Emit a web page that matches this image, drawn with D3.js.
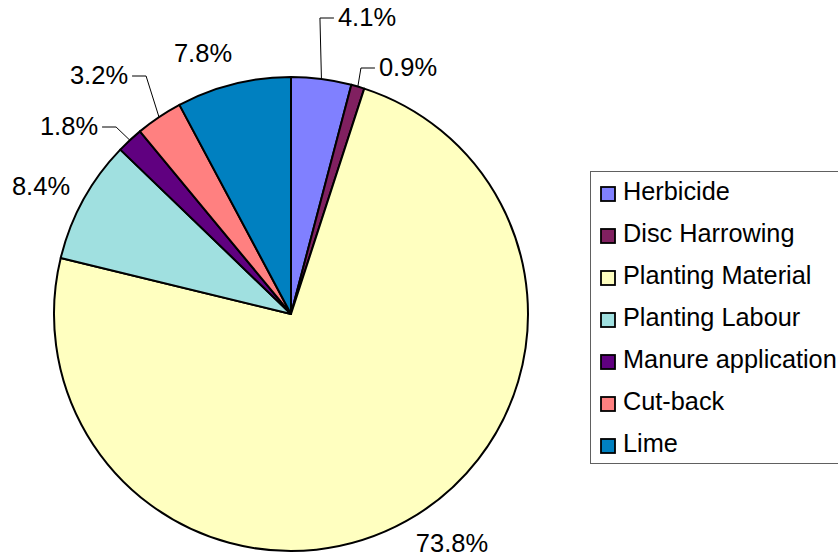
<!DOCTYPE html>
<html>
<head>
<meta charset="utf-8">
<script src="https://cdnjs.cloudflare.com/ajax/libs/d3/7.8.5/d3.min.js"></script>
<style>
  html, body { margin: 0; padding: 0; background: #fff; overflow: hidden; }
  svg { display: block; font-family: "Liberation Sans", Arial, sans-serif; }
</style>
</head>
<body>
<svg id="chart" width="838" height="555"></svg>
<script>
// Cost components (percent of total establishment cost)
const categories = ["Herbicide", "Disc Harrowing", "Planting Material", "Planting Labour",
                    "Manure application", "Cut-back", "Lime"];
const shares = [4.1, 0.9, 73.8, 8.4, 1.8, 3.2, 7.8];
const labelTexts = ["4.1%", "0.9%", "73.8%", "8.4%", "1.8%", "3.2%", "7.8%"];
const colors = ["#8080FF", "#802060", "#FFFFC0", "#A0E0E0", "#600080", "#FF8080", "#0080C0"];

// Label placement: offset of label centre from pie centre, and whether a leader line is drawn
const labelOffsets = [[76, -297], [117, -247], [161, 229], [-250, -128], [-222, -188], [-192, -239], [-88, -261]];
const hasLeader = [true, true, false, false, true, true, false];

const svg = d3.select("#chart");
const cx = 291, cy = 314, radius = 237;

const pie = d3.pie().sort(null).value(d => d.value);
const arcs = pie(categories.map((c, i) => ({ name: c, value: shares[i], i })));
const arcGen = d3.arc().innerRadius(0).outerRadius(radius);

const g = svg.append("g").attr("transform", `translate(${cx},${cy})`);

g.selectAll("path.slice")
  .data(arcs)
  .join("path")
  .attr("class", "slice")
  .attr("d", arcGen)
  .attr("fill", d => colors[d.data.i])
  .attr("stroke", "#000")
  .attr("stroke-width", 2)
  .attr("stroke-linejoin", "round");

// Percentage labels
const labels = g.selectAll("text.pct")
  .data(arcs)
  .join("text")
  .attr("class", "pct")
  .attr("x", d => labelOffsets[d.data.i][0])
  .attr("y", d => labelOffsets[d.data.i][1])
  .attr("text-anchor", "middle")
  .attr("dominant-baseline", "central")
  .attr("font-size", 25.5)
  .attr("fill", "#000")
  .text(d => labelTexts[d.data.i]);

// Leader lines from slice edge to the side of the label
labels.each(function(d) {
  if (!hasLeader[d.data.i]) return;
  const bb = this.getBBox();
  const mid = (d.startAngle + d.endAngle) / 2;
  const px = radius * Math.sin(mid), py = -radius * Math.cos(mid);
  const ly = labelOffsets[d.data.i][1] + 1;
  const right = px < labelOffsets[d.data.i][0];
  const edge = right ? bb.x - 4 : bb.x + bb.width + 4;
  const corner = right ? edge - 14 : edge + 14;
  g.append("path")
    .attr("d", d3.line()([[px, py], [corner, ly], [edge, ly]]))
    .attr("fill", "none")
    .attr("stroke", "#000")
    .attr("stroke-width", 1);
});

// Legend
const legend = svg.append("g").attr("transform", "translate(590,171)");
legend.append("rect")
  .attr("x", 0.5).attr("y", 0.5)
  .attr("width", 270).attr("height", 292)
  .attr("fill", "#fff")
  .attr("stroke", "#606060")
  .attr("stroke-width", 1);

const rows = legend.selectAll("g.row")
  .data(categories)
  .join("g")
  .attr("class", "row")
  .attr("transform", (d, i) => `translate(0,${23 + i * 42})`);

rows.append("rect")
  .attr("x", 11).attr("y", -7)
  .attr("width", 14).attr("height", 14)
  .attr("fill", (d, i) => colors[i])
  .attr("stroke", "#000")
  .attr("stroke-width", 1.8);

rows.append("text")
  .attr("x", 33)
  .attr("y", 6)
  .attr("font-size", 25.3)
  .attr("fill", "#000")
  .text(d => d);
</script>
</body>
</html>
